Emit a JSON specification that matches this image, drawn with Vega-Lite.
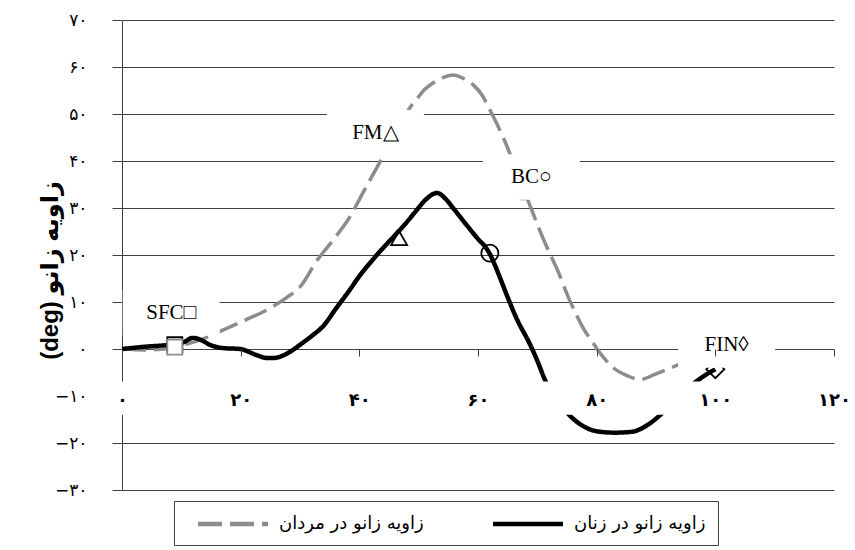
{
  "$schema": "https://vega.github.io/schema/vega-lite/v6.json",
  "width": 712,
  "height": 470,
  "autosize": {"type": "none"},
  "padding": {"left": 122, "top": 20, "right": 21, "bottom": 60},
  "background": "white",
  "config": {
    "view": {"stroke": null},
    "font": "DejaVu Sans",
    "legend": {
      "symbolType": "M-4,0H4",
      "symbolSize": 306,
      "symbolOffset": 36,
      "symbolStrokeWidth": 4.5,
      "labelFont": "DejaVu Sans",
      "labelFontSize": 18,
      "labelColor": "black",
      "labelLimit": 400,
      "labelOffset": 35,
      "columnPadding": 57,
      "padding": 12,
      "strokeColor": "#404040",
      "fillColor": "white"
    }
  },
  "datasets": {
    "curves": [
      {"series": "زاویه زانو در مردان", "x": 0, "angle": 0},
      {"series": "زاویه زانو در مردان", "x": 4.7, "angle": -0.2},
      {"series": "زاویه زانو در مردان", "x": 8.9, "angle": 0.4},
      {"series": "زاویه زانو در مردان", "x": 10.3, "angle": 0.85},
      {"series": "زاویه زانو در مردان", "x": 13.1, "angle": 1.9},
      {"series": "زاویه زانو در مردان", "x": 17, "angle": 4},
      {"series": "زاویه زانو در مردان", "x": 20.5, "angle": 6},
      {"series": "زاویه زانو در مردان", "x": 24.4, "angle": 8.3},
      {"series": "زاویه زانو در مردان", "x": 27.8, "angle": 11},
      {"series": "زاویه زانو در مردان", "x": 30, "angle": 13.2},
      {"series": "زاویه زانو در مردان", "x": 32.9, "angle": 18.9},
      {"series": "زاویه زانو در مردان", "x": 35.6, "angle": 23.2},
      {"series": "زاویه زانو در مردان", "x": 38.4, "angle": 28.1},
      {"series": "زاویه زانو در مردان", "x": 40.6, "angle": 33.2},
      {"series": "زاویه زانو در مردان", "x": 43, "angle": 38.7},
      {"series": "زاویه زانو در مردان", "x": 45.5, "angle": 44.3},
      {"series": "زاویه زانو در مردان", "x": 47, "angle": 48.2},
      {"series": "زاویه زانو در مردان", "x": 48.5, "angle": 51.3},
      {"series": "زاویه زانو در مردان", "x": 49.7, "angle": 53.2},
      {"series": "زاویه زانو در مردان", "x": 51, "angle": 55.2},
      {"series": "زاویه زانو در مردان", "x": 52.4, "angle": 56.6},
      {"series": "زاویه زانو در مردان", "x": 54, "angle": 57.7},
      {"series": "زاویه زانو در مردان", "x": 55.8, "angle": 58.3},
      {"series": "زاویه زانو در مردان", "x": 57.5, "angle": 57.6},
      {"series": "زاویه زانو در مردان", "x": 59.2, "angle": 56.2},
      {"series": "زاویه زانو در مردان", "x": 60.7, "angle": 54},
      {"series": "زاویه زانو در مردان", "x": 62, "angle": 50.9},
      {"series": "زاویه زانو در مردان", "x": 63.3, "angle": 47.6},
      {"series": "زاویه زانو در مردان", "x": 64.6, "angle": 44},
      {"series": "زاویه زانو در مردان", "x": 66, "angle": 39.5},
      {"series": "زاویه زانو در مردان", "x": 67.6, "angle": 34.3},
      {"series": "زاویه زانو در مردان", "x": 68.4, "angle": 31.7},
      {"series": "زاویه زانو در مردان", "x": 70, "angle": 26.5},
      {"series": "زاویه زانو در مردان", "x": 71.6, "angle": 21.7},
      {"series": "زاویه زانو در مردان", "x": 73.5, "angle": 16.5},
      {"series": "زاویه زانو در مردان", "x": 75.2, "angle": 11.1},
      {"series": "زاویه زانو در مردان", "x": 76.5, "angle": 7.5},
      {"series": "زاویه زانو در مردان", "x": 77.7, "angle": 4.5},
      {"series": "زاویه زانو در مردان", "x": 79, "angle": 2},
      {"series": "زاویه زانو در مردان", "x": 80.2, "angle": -0.2},
      {"series": "زاویه زانو در مردان", "x": 81.5, "angle": -2.3},
      {"series": "زاویه زانو در مردان", "x": 82.8, "angle": -4},
      {"series": "زاویه زانو در مردان", "x": 85, "angle": -5.6},
      {"series": "زاویه زانو در مردان", "x": 87.3, "angle": -6.5},
      {"series": "زاویه زانو در مردان", "x": 90, "angle": -5.3},
      {"series": "زاویه زانو در مردان", "x": 92.5, "angle": -4},
      {"series": "زاویه زانو در مردان", "x": 94.4, "angle": -3},
      {"series": "زاویه زانو در مردان", "x": 97, "angle": -1.8},
      {"series": "زاویه زانو در مردان", "x": 100, "angle": -0.7},
      {"series": "زاویه زانو در زنان", "x": 0, "angle": 0},
      {"series": "زاویه زانو در زنان", "x": 4, "angle": 0.5},
      {"series": "زاویه زانو در زنان", "x": 7.6, "angle": 0.85},
      {"series": "زاویه زانو در زنان", "x": 10.3, "angle": 1.4},
      {"series": "زاویه زانو در زنان", "x": 12, "angle": 2.4},
      {"series": "زاویه زانو در زنان", "x": 13.5, "angle": 1.8},
      {"series": "زاویه زانو در زنان", "x": 14.8, "angle": 0.9},
      {"series": "زاویه زانو در زنان", "x": 17, "angle": 0.2},
      {"series": "زاویه زانو در زنان", "x": 19.9, "angle": 0},
      {"series": "زاویه زانو در زنان", "x": 22.7, "angle": -1.3},
      {"series": "زاویه زانو در زنان", "x": 24.4, "angle": -1.9},
      {"series": "زاویه زانو در زنان", "x": 25.6, "angle": -1.9},
      {"series": "زاویه زانو در زنان", "x": 28.3, "angle": -0.6},
      {"series": "زاویه زانو در زنان", "x": 30, "angle": 0.9},
      {"series": "زاویه زانو در زنان", "x": 32, "angle": 2.8},
      {"series": "زاویه زانو در زنان", "x": 34, "angle": 5},
      {"series": "زاویه زانو در زنان", "x": 36, "angle": 8.5},
      {"series": "زاویه زانو در زنان", "x": 38.4, "angle": 12.6},
      {"series": "زاویه زانو در زنان", "x": 40, "angle": 15.5},
      {"series": "زاویه زانو در زنان", "x": 41.8, "angle": 18.3},
      {"series": "زاویه زانو در زنان", "x": 44, "angle": 21.5},
      {"series": "زاویه زانو در زنان", "x": 46, "angle": 24.2},
      {"series": "زاویه زانو در زنان", "x": 48, "angle": 27},
      {"series": "زاویه زانو در زنان", "x": 49.7, "angle": 29.6},
      {"series": "زاویه زانو در زنان", "x": 51.2, "angle": 31.8},
      {"series": "زاویه زانو در زنان", "x": 53.1, "angle": 33.2},
      {"series": "زاویه زانو در زنان", "x": 54.5, "angle": 32},
      {"series": "زاویه زانو در زنان", "x": 55.8, "angle": 30},
      {"series": "زاویه زانو در زنان", "x": 58, "angle": 26.5},
      {"series": "زاویه زانو در زنان", "x": 60.3, "angle": 23},
      {"series": "زاویه زانو در زنان", "x": 61.2, "angle": 21.8},
      {"series": "زاویه زانو در زنان", "x": 62, "angle": 20.2},
      {"series": "زاویه زانو در زنان", "x": 62.8, "angle": 18},
      {"series": "زاویه زانو در زنان", "x": 63.7, "angle": 15.2},
      {"series": "زاویه زانو در زنان", "x": 65, "angle": 11},
      {"series": "زاویه زانو در زنان", "x": 66.5, "angle": 6.5},
      {"series": "زاویه زانو در زنان", "x": 68.8, "angle": 0.9},
      {"series": "زاویه زانو در زنان", "x": 70, "angle": -2.5},
      {"series": "زاویه زانو در زنان", "x": 71.3, "angle": -6.6},
      {"series": "زاویه زانو در زنان", "x": 73, "angle": -10.3},
      {"series": "زاویه زانو در زنان", "x": 74.5, "angle": -12.8},
      {"series": "زاویه زانو در زنان", "x": 76, "angle": -14.8},
      {"series": "زاویه زانو در زنان", "x": 78, "angle": -16.6},
      {"series": "زاویه زانو در زنان", "x": 80, "angle": -17.5},
      {"series": "زاویه زانو در زنان", "x": 83, "angle": -17.8},
      {"series": "زاویه زانو در زنان", "x": 86, "angle": -17.6},
      {"series": "زاویه زانو در زنان", "x": 88, "angle": -16.6},
      {"series": "زاویه زانو در زنان", "x": 90.3, "angle": -14.5},
      {"series": "زاویه زانو در زنان", "x": 92.5, "angle": -11.8},
      {"series": "زاویه زانو در زنان", "x": 94.5, "angle": -9.5},
      {"series": "زاویه زانو در زنان", "x": 96.5, "angle": -7.2},
      {"series": "زاویه زانو در زنان", "x": 98.5, "angle": -5.4},
      {"series": "زاویه زانو در زنان", "x": 100, "angle": -4.3}
    ],
    "events": [
      {"series": "زاویه زانو در زنان", "event": "SFC", "x": 8.9, "angle": 0.9},
      {"series": "زاویه زانو در زنان", "event": "FM", "x": 46.7, "angle": 23.6},
      {"series": "زاویه زانو در زنان", "event": "BC", "x": 62, "angle": 20.4},
      {"series": "زاویه زانو در زنان", "event": "FIN", "x": 100, "angle": -4.3},
      {"series": "زاویه زانو در مردان", "event": "SFC", "x": 8.9, "angle": 0.4},
      {"series": "زاویه زانو در مردان", "event": "FM", "x": 46, "angle": 45.3},
      {"series": "زاویه زانو در مردان", "event": "BC", "x": 67.6, "angle": 33.6},
      {"series": "زاویه زانو در مردان", "event": "FIN", "x": 100, "angle": -0.7}
    ],
    "labels": [
      {"label": "SFC□", "x": 8.3, "angle": 7.7},
      {"label": "FM△", "x": 42.7, "angle": 46.0},
      {"label": "BC○", "x": 69.0, "angle": 36.6},
      {"label": "FIN◊", "x": 101.9, "angle": 0.85}
    ]
  },
  "layer": [
    {
      "data": {"name": "curves"},
      "transform": [{"filter": "datum.series === 'زاویه زانو در مردان'"}],
      "mark": {"type": "line", "strokeWidth": 3.5, "strokeJoin": "round", "interpolate": "monotone"},
      "encoding": {
        "x": {
          "field": "x", "type": "quantitative",
          "scale": {"domain": [0, 120], "nice": false},
          "axis": {
            "orient": "bottom", "offset": -141, "values": [0, 20, 40, 60, 80, 100, 120],
            "domain": false, "grid": false, "ticks": true, "tickSize": 7, "tickColor": "#404040",
            "labelPadding": 44, "labelBaseline": "middle", "labelFlush": false, "labelOverlap": false,
            "labelFont": "DejaVu Sans", "labelFontSize": 18, "labelFontWeight": "bold", "labelColor": "black",
            "labelExpr": "replace(replace(replace(replace(replace(replace(replace(replace(replace(replace(datum.label,regexp('0','g'),'۰'),regexp('1','g'),'۱'),regexp('2','g'),'۲'),regexp('3','g'),'۳'),regexp('4','g'),'۴'),regexp('5','g'),'۵'),regexp('6','g'),'۶'),regexp('7','g'),'۷'),regexp('8','g'),'۸'),regexp('9','g'),'۹')",
            "title": null, "zindex": 1
          }
        },
        "y": {
          "field": "angle", "type": "quantitative",
          "scale": {"domain": [-30, 70], "nice": false},
          "axis": {
            "values": [-30, -20, -10, 0, 10, 20, 30, 40, 50, 60, 70],
            "grid": true, "gridColor": "#404040", "gridOpacity": 1, "gridWidth": 1,
            "domainColor": "#404040", "tickColor": "#404040", "tickSize": 10,
            "labelPadding": 25, "labelFont": "DejaVu Sans", "labelFontSize": 17, "labelFontWeight": "normal", "labelColor": "black",
            "labelExpr": "replace(replace(replace(replace(replace(replace(replace(replace(replace(replace(datum.label,regexp('0','g'),'۰'),regexp('1','g'),'۱'),regexp('2','g'),'۲'),regexp('3','g'),'۳'),regexp('4','g'),'۴'),regexp('5','g'),'۵'),regexp('6','g'),'۶'),regexp('7','g'),'۷'),regexp('8','g'),'۸'),regexp('9','g'),'۹')",
            "title": "(deg) زاویه زانو",
            "titleFont": "Liberation Sans, DejaVu Sans", "titleFontSize": 24, "titleFontWeight": "bold", "titleColor": "black",
            "titleX": -72, "titleY": 250, "titleAngle": -90, "titleAlign": "center", "titleBaseline": "middle",
            "zindex": 0
          }
        },
        "color": {
          "field": "series", "type": "nominal",
          "scale": {"domain": ["زاویه زانو در مردان", "زاویه زانو در زنان"], "range": ["#8c8c8c", "#000000"]},
          "legend": {"title": null, "orient": "none", "legendX": 52, "legendY": 481, "direction": "horizontal"}
        },
        "strokeDash": {
          "field": "series", "type": "nominal",
          "scale": {"domain": ["زاویه زانو در مردان", "زاویه زانو در زنان"], "range": [[24, 8], [1, 0]]},
          "legend": {"title": null, "orient": "none", "legendX": 52, "legendY": 481, "direction": "horizontal"}
        }
      }
    },
    {
      "data": {"name": "curves"},
      "transform": [{"filter": "datum.series === 'زاویه زانو در زنان'"}],
      "mark": {"type": "line", "strokeWidth": 4.5, "strokeJoin": "round", "interpolate": "monotone"},
      "encoding": {
        "x": {"field": "x", "type": "quantitative"},
        "y": {"field": "angle", "type": "quantitative"},
        "color": {
          "field": "series", "type": "nominal",
          "scale": {"domain": ["زاویه زانو در مردان", "زاویه زانو در زنان"], "range": ["#8c8c8c", "#000000"]},
          "legend": {"title": null, "orient": "none", "legendX": 52, "legendY": 481, "direction": "horizontal"}
        },
        "strokeDash": {
          "field": "series", "type": "nominal",
          "scale": {"domain": ["زاویه زانو در مردان", "زاویه زانو در زنان"], "range": [[24, 8], [1, 0]]},
          "legend": {"title": null, "orient": "none", "legendX": 52, "legendY": 481, "direction": "horizontal"}
        }
      }
    },
    {
      "data": {"name": "events"},
      "mark": {"type": "point", "filled": true, "strokeWidth": 1.8, "opacity": 1},
      "encoding": {
        "x": {"field": "x", "type": "quantitative"},
        "y": {"field": "angle", "type": "quantitative"},
        "shape": {
          "field": "event", "type": "nominal",
          "scale": {"domain": ["SFC", "FM", "BC", "FIN"], "range": ["square", "triangle-up", "circle", "diamond"]},
          "legend": null
        },
        "size": {
          "field": "event", "type": "ordinal",
          "scale": {"domain": ["SFC", "FM", "BC", "FIN"], "range": [225, 324, 729, 784]},
          "legend": null
        },
        "stroke": {
          "field": "series", "type": "nominal",
          "scale": {"domain": ["زاویه زانو در مردان", "زاویه زانو در زنان"], "range": ["#8c8c8c", "#000000"]},
          "legend": null
        },
        "fill": {"condition": {"test": "datum.event === 'SFC'", "value": "white"}, "value": "transparent"}
      }
    },
    {
      "data": {"values": [{}]},
      "mark": {"type": "rect", "color": "white"},
      "encoding": {
        "x": {"datum": -1.7, "type": "quantitative"},
        "x2": {"datum": 120},
        "y": {"datum": -6.9, "type": "quantitative"},
        "y2": {"datum": -14}
      }
    },
    {
      "data": {"name": "labels"},
      "mark": {"type": "point", "filled": true, "fill": "white", "opacity": 1, "strokeWidth": 0, "shape": "M-1,-0.47H1V0.47H-1Z", "size": 9409},
      "encoding": {
        "x": {"field": "x", "type": "quantitative"},
        "y": {"field": "angle", "type": "quantitative"}
      }
    },
    {
      "data": {"name": "labels"},
      "mark": {"type": "text", "font": "Liberation Serif", "fontSize": 21, "color": "black", "align": "center", "baseline": "middle"},
      "encoding": {
        "x": {"field": "x", "type": "quantitative"},
        "y": {"field": "angle", "type": "quantitative"},
        "text": {"field": "label"}
      }
    }
  ]
}
